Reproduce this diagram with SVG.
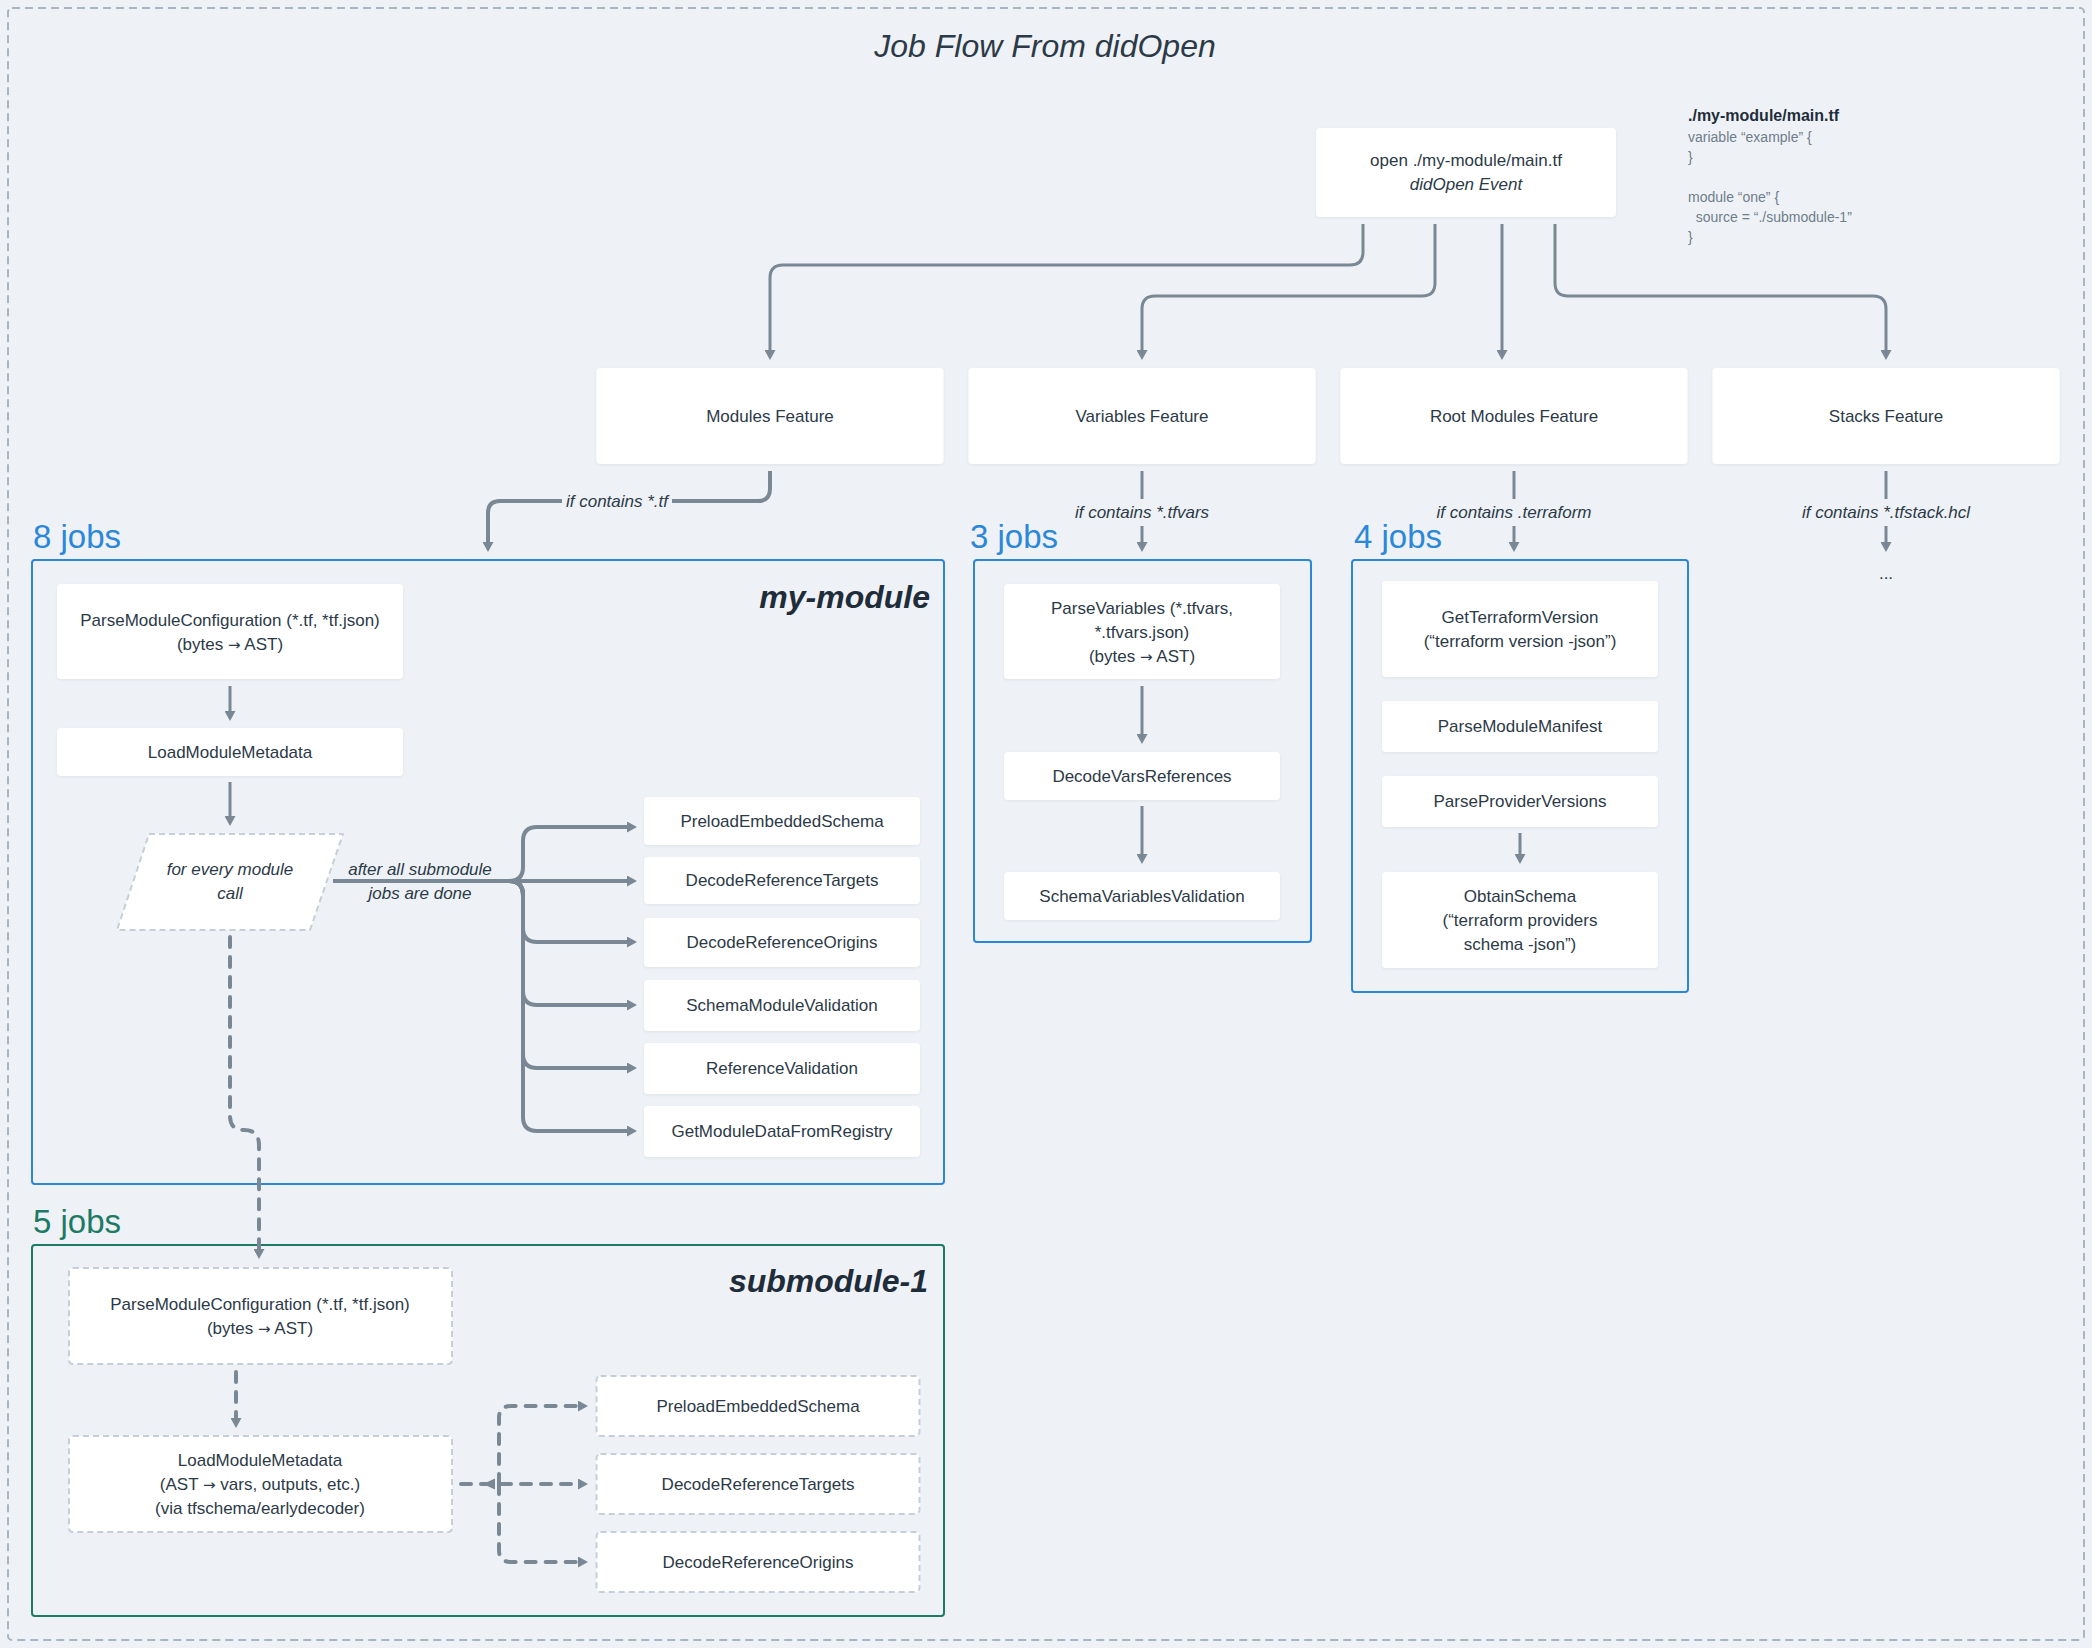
<svg xmlns="http://www.w3.org/2000/svg" width="2092" height="1648" viewBox="0 0 2092 1648">
<defs>
  <marker id="ah" viewBox="0 0 10 11" refX="0" refY="5.5" markerWidth="10" markerHeight="11" markerUnits="userSpaceOnUse" orient="auto">
    <path d="M0,0 L10,5.5 L0,11 z" fill="#7a8896"/>
  </marker>
  <filter id="sh" x="-5%" y="-10%" width="110%" height="130%">
    <feDropShadow dx="0" dy="1" stdDeviation="1.2" flood-color="#3a4a5a" flood-opacity="0.08"/>
  </filter>
</defs>
<style>
  .box{fill:#ffffff;filter:url(#sh)}
  .dbox{fill:#ffffff;stroke:#c6cfd9;stroke-width:2;stroke-dasharray:6 4}
  .t{font-family:"Liberation Sans",Arial,sans-serif;font-size:17px;fill:#2c3a47;text-anchor:middle}
  .it{font-style:italic}
  .ar{font-family:"DejaVu Sans",sans-serif;font-size:15px}
  .code{font-family:"Liberation Sans",Arial,sans-serif;font-size:14px;fill:#6f7d8b}
  .codeh{font-family:"Liberation Sans",Arial,sans-serif;font-size:16px;font-weight:bold;fill:#1f2d3a}
  .jobs{font-family:"Liberation Sans",Arial,sans-serif;font-size:33px}
  .blue{fill:#2b87d9}
  .green{fill:#1d7a64}
  .mod{font-family:"Liberation Sans",Arial,sans-serif;font-size:32px;font-weight:bold;font-style:italic;fill:#1f2d3a;text-anchor:end}
  .c3{fill:none;stroke:#7a8896;stroke-width:3}
  .c4{fill:none;stroke:#7a8896;stroke-width:4}
  .cd{fill:none;stroke:#7a8896;stroke-width:4;stroke-dasharray:10 10;stroke-linecap:round}
</style>
<rect x="0" y="0" width="2092" height="1648" fill="#eef2f6"/>
<rect x="8" y="8" width="2076" height="1632" rx="4" fill="none" stroke="#a9b5c1" stroke-width="2" stroke-dasharray="8 5"/>
<text x="1045" y="57" font-family="'Liberation Sans',Arial,sans-serif" font-size="32" font-style="italic" fill="#2c3a47" text-anchor="middle">Job Flow From didOpen</text>

<g id="code">
  <text class="codeh" x="1688" y="121">./my-module/main.tf</text>
  <text class="code" x="1688" y="142">variable “example” {</text>
  <text class="code" x="1688" y="162">}</text>
  <text class="code" x="1688" y="202">module “one” {</text>
  <text class="code" x="1688" y="222" xml:space="preserve">  source = “./submodule-1”</text>
  <text class="code" x="1688" y="242">}</text>
</g>

<g id="jobcounts">
  <text class="jobs blue" x="33" y="548">8 jobs</text>
  <text class="jobs blue" x="970" y="548">3 jobs</text>
  <text class="jobs blue" x="1354" y="548">4 jobs</text>
  <text class="jobs green" x="33" y="1233">5 jobs</text>
</g>

<g id="group-my-module">
  <rect x="32" y="560" width="912" height="624" rx="3" fill="none" stroke="#2b87d9" stroke-width="2"/>
  <text class="mod" x="930" y="608">my-module</text>
</g>
<g id="group-vars">
  <rect x="974" y="560" width="337" height="382" rx="3" fill="none" stroke="#2b87d9" stroke-width="2"/>
</g>
<g id="group-root">
  <rect x="1352" y="560" width="336" height="432" rx="3" fill="none" stroke="#2b87d9" stroke-width="2"/>
</g>
<g id="group-submodule">
  <rect x="32" y="1245" width="912" height="371" rx="3" fill="none" stroke="#1d7a64" stroke-width="2"/>
  <text class="mod" x="928" y="1292">submodule-1</text>
</g>

<g id="connectors">
  <path class="c3" d="M1363 224 V252 Q1363 265 1350 265 H783 Q770 265 770 278 V350" marker-end="url(#ah)"/>
  <path class="c3" d="M1435 224 V283 Q1435 296 1422 296 H1155 Q1142 296 1142 309 V350" marker-end="url(#ah)"/>
  <path class="c3" d="M1502 224 V350" marker-end="url(#ah)"/>
  <path class="c3" d="M1555 224 V283 Q1555 296 1568 296 H1873 Q1886 296 1886 309 V350" marker-end="url(#ah)"/>

  <path class="c4" d="M770 471 V489 Q770 501 758 501 H672"/>
  <path class="c4" d="M562 501 H500 Q488 501 488 513 V542" marker-end="url(#ah)"/>
  <text class="t it" x="617" y="507">if contains *.tf</text>
  <path class="c3" d="M1142 471 V499"/>
  <path class="c3" d="M1142 526 V542" marker-end="url(#ah)"/>
  <text class="t it" x="1142" y="518">if contains *.tfvars</text>
  <path class="c3" d="M1514 471 V499"/>
  <path class="c3" d="M1514 526 V542" marker-end="url(#ah)"/>
  <text class="t it" x="1514" y="518">if contains .terraform</text>
  <path class="c3" d="M1886 471 V499"/>
  <path class="c3" d="M1886 526 V542" marker-end="url(#ah)"/>
  <text class="t it" x="1886" y="518">if contains *.tfstack.hcl</text>
  <text class="t" x="1886" y="579">...</text>

  <path class="c3" d="M230 686 V711" marker-end="url(#ah)"/>
  <path class="c3" d="M230 782 V816" marker-end="url(#ah)"/>

  <path class="c4" d="M333 881 H627" marker-end="url(#ah)"/>
  <path class="c4" d="M333 881 H509 Q523 881 523 867 V841 Q523 827 537 827 H627" marker-end="url(#ah)"/>
  <path class="c4" d="M333 881 H509 Q523 881 523 895 V928 Q523 942 537 942 H627" marker-end="url(#ah)"/>
  <path class="c4" d="M509 881 Q523 881 523 895 V991 Q523 1005 537 1005 H627" marker-end="url(#ah)"/>
  <path class="c4" d="M509 881 Q523 881 523 895 V1054 Q523 1068 537 1068 H627" marker-end="url(#ah)"/>
  <path class="c4" d="M509 881 Q523 881 523 895 V1117 Q523 1131 537 1131 H627" marker-end="url(#ah)"/>
  <text class="t it" x="420" y="875">after all submodule</text>
  <text class="t it" x="420" y="899">jobs are done</text>

  <path class="cd" d="M230 937 V1116 Q230 1130 244 1130 Q259 1130 259 1145 V1249" marker-end="url(#ah)"/>

  <path class="c3" d="M1142 686 V734" marker-end="url(#ah)"/>
  <path class="c3" d="M1142 806 V854" marker-end="url(#ah)"/>
  <path class="c3" d="M1520 833 V854" marker-end="url(#ah)"/>

  <path class="cd" d="M236 1372 V1418" marker-end="url(#ah)"/>
  <path class="cd" d="M461 1484 H578" marker-end="url(#ah)"/>
  <path class="cd" d="M499 1484 V1418 Q499 1406 511 1406 H578" marker-end="url(#ah)"/>
  <path class="cd" d="M499 1484 V1550 Q499 1562 511 1562 H578" marker-end="url(#ah)"/>
  <path d="M483 1484 L495 1478.5 L495 1489.5 z" fill="#7a8896"/>
</g>

<g id="n-didopen">
  <rect class="box" x="1316" y="128" width="300" height="89" rx="4"/>
  <text class="t" x="1466" y="166">open ./my-module/main.tf</text>
  <text class="t it" x="1466" y="190">didOpen Event</text>
</g>
<g id="n-modules-feature">
  <rect class="box" x="596.5" y="368" width="347" height="96" rx="4"/>
  <text class="t" x="770" y="422">Modules Feature</text>
</g>
<g id="n-variables-feature">
  <rect class="box" x="968.5" y="368" width="347" height="96" rx="4"/>
  <text class="t" x="1142" y="422">Variables Feature</text>
</g>
<g id="n-rootmodules-feature">
  <rect class="box" x="1340.5" y="368" width="347" height="96" rx="4"/>
  <text class="t" x="1514" y="422">Root Modules Feature</text>
</g>
<g id="n-stacks-feature">
  <rect class="box" x="1712.5" y="368" width="347" height="96" rx="4"/>
  <text class="t" x="1886" y="422">Stacks Feature</text>
</g>

<g id="n-mm-parse">
  <rect class="box" x="57" y="584" width="346" height="95" rx="4"/>
  <text class="t" x="230" y="626">ParseModuleConfiguration (*.tf, *tf.json)</text>
  <text class="t" x="230" y="650">(bytes <tspan class="ar">→</tspan> AST)</text>
</g>
<g id="n-mm-load">
  <rect class="box" x="57" y="728" width="346" height="48" rx="4"/>
  <text class="t" x="230" y="758">LoadModuleMetadata</text>
</g>
<g id="n-mm-foreach">
  <path d="M149 834 H343 L310 930 H117 Z" fill="#ffffff" stroke="#c6cfd9" stroke-width="2" stroke-dasharray="6 4" stroke-linejoin="round"/>
  <text class="t it" x="230" y="875">for every module</text>
  <text class="t it" x="230" y="899">call</text>
</g>
<g id="n-mm-preload">
  <rect class="box" x="644" y="797" width="276" height="48" rx="4"/>
  <text class="t" x="782" y="827">PreloadEmbeddedSchema</text>
</g>
<g id="n-mm-targets">
  <rect class="box" x="644" y="857" width="276" height="47" rx="4"/>
  <text class="t" x="782" y="886">DecodeReferenceTargets</text>
</g>
<g id="n-mm-origins">
  <rect class="box" x="644" y="918" width="276" height="49" rx="4"/>
  <text class="t" x="782" y="948">DecodeReferenceOrigins</text>
</g>
<g id="n-mm-schema">
  <rect class="box" x="644" y="980" width="276" height="51" rx="4"/>
  <text class="t" x="782" y="1011">SchemaModuleValidation</text>
</g>
<g id="n-mm-refval">
  <rect class="box" x="644" y="1043" width="276" height="51" rx="4"/>
  <text class="t" x="782" y="1074">ReferenceValidation</text>
</g>
<g id="n-mm-registry">
  <rect class="box" x="644" y="1106" width="276" height="51" rx="4"/>
  <text class="t" x="782" y="1137">GetModuleDataFromRegistry</text>
</g>

<g id="n-v-parse">
  <rect class="box" x="1004" y="584" width="276" height="95" rx="4"/>
  <text class="t" x="1142" y="614">ParseVariables (*.tfvars,</text>
  <text class="t" x="1142" y="638">*.tfvars.json)</text>
  <text class="t" x="1142" y="662">(bytes <tspan class="ar">→</tspan> AST)</text>
</g>
<g id="n-v-decode">
  <rect class="box" x="1004" y="752" width="276" height="48" rx="4"/>
  <text class="t" x="1142" y="782">DecodeVarsReferences</text>
</g>
<g id="n-v-validate">
  <rect class="box" x="1004" y="872" width="276" height="48" rx="4"/>
  <text class="t" x="1142" y="902">SchemaVariablesValidation</text>
</g>

<g id="n-r-tfversion">
  <rect class="box" x="1382" y="581" width="276" height="96" rx="4"/>
  <text class="t" x="1520" y="623">GetTerraformVersion</text>
  <text class="t" x="1520" y="647">(“terraform version -json”)</text>
</g>
<g id="n-r-manifest">
  <rect class="box" x="1382" y="701" width="276" height="51" rx="4"/>
  <text class="t" x="1520" y="732">ParseModuleManifest</text>
</g>
<g id="n-r-providers">
  <rect class="box" x="1382" y="776" width="276" height="51" rx="4"/>
  <text class="t" x="1520" y="807">ParseProviderVersions</text>
</g>
<g id="n-r-schema">
  <rect class="box" x="1382" y="872" width="276" height="96" rx="4"/>
  <text class="t" x="1520" y="902">ObtainSchema</text>
  <text class="t" x="1520" y="926">(“terraform providers</text>
  <text class="t" x="1520" y="950">schema -json”)</text>
</g>

<g id="n-s-parse">
  <rect class="dbox" x="69" y="1268" width="383" height="96" rx="4"/>
  <text class="t" x="260" y="1310">ParseModuleConfiguration (*.tf, *tf.json)</text>
  <text class="t" x="260" y="1334">(bytes <tspan class="ar">→</tspan> AST)</text>
</g>
<g id="n-s-load">
  <rect class="dbox" x="69" y="1436" width="383" height="96" rx="4"/>
  <text class="t" x="260" y="1466">LoadModuleMetadata</text>
  <text class="t" x="260" y="1490">(AST <tspan class="ar">→</tspan> vars, outputs, etc.)</text>
  <text class="t" x="260" y="1514">(via tfschema/earlydecoder)</text>
</g>
<g id="n-s-preload">
  <rect class="dbox" x="596.5" y="1376" width="323" height="60" rx="4"/>
  <text class="t" x="758" y="1412">PreloadEmbeddedSchema</text>
</g>
<g id="n-s-targets">
  <rect class="dbox" x="596.5" y="1454" width="323" height="60" rx="4"/>
  <text class="t" x="758" y="1490">DecodeReferenceTargets</text>
</g>
<g id="n-s-origins">
  <rect class="dbox" x="596.5" y="1532" width="323" height="60" rx="4"/>
  <text class="t" x="758" y="1568">DecodeReferenceOrigins</text>
</g>
</svg>
